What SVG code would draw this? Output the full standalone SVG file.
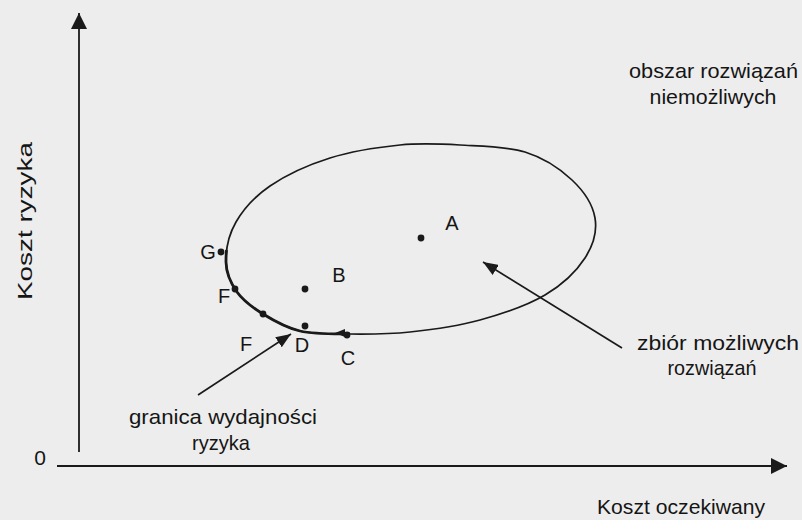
<svg xmlns="http://www.w3.org/2000/svg" width="802" height="520" viewBox="0 0 802 520">
<defs>
<style>
text{font-family:"Liberation Sans",Arial,sans-serif;fill:#151515}
.lbl{font-size:21px}
.pt{font-size:20px;text-anchor:middle}
.ax{stroke:#1a1a1a;stroke-width:1.8;fill:none}
.ln{stroke:#1a1a1a;stroke-width:1.7;fill:none}
.dot{fill:#1a1a1a}
</style>
<marker id="axisHead" markerUnits="userSpaceOnUse" markerWidth="17" markerHeight="16" refX="16" refY="8" orient="auto">
<path d="M0,0 L16,8 L0,16 Z" fill="#1a1a1a"/>
</marker>
<marker id="ptrHead" markerUnits="userSpaceOnUse" markerWidth="16" markerHeight="12" refX="15" refY="6" orient="auto">
<path d="M0,0 L15,6 L0,12 Z" fill="#1a1a1a"/>
</marker>
</defs>
<rect width="802" height="520" fill="#ededed"/>

<g id="axes">
<line class="ax" x1="79" y1="452" x2="79" y2="13" marker-end="url(#axisHead)"/>
<line class="ax" x1="57" y1="466" x2="787" y2="466" marker-end="url(#axisHead)"/>
<text class="lbl" x="40" y="465" text-anchor="middle" font-size="20">0</text>
<text class="lbl" transform="translate(32,221) rotate(-90)" x="0" y="0" text-anchor="middle" font-size="24" textLength="158" lengthAdjust="spacingAndGlyphs">Koszt ryzyka</text>
<text class="lbl" x="681" y="514" text-anchor="middle" textLength="168" lengthAdjust="spacingAndGlyphs">Koszt oczekiwany</text>
</g>

<g id="feasible-set">
<path class="ln" d="M226,262 C225.8,250.3 228.7,234.7 236,222 C243.3,209.3 254.3,196.7 270,186 C285.7,175.3 308.3,164.8 330,158 C351.7,151.2 378.3,147.2 400,145 C421.7,142.8 439.2,143.8 460,145 C480.8,146.2 506.3,146.2 525,152 C543.7,157.8 560.3,169 572,180 C583.7,191 592.8,205 595,218 C597.2,231 593.3,245.2 585,258 C576.7,270.8 562.5,284.7 545,295 C527.5,305.3 502.5,313.8 480,320 C457.5,326.2 431.7,329.7 410,332 C388.3,334.3 368.3,334.2 350,334 C331.7,333.8 314.5,334.3 300,331 C285.5,327.7 273.5,320.5 263,314 C252.5,307.5 243.2,300.7 237,292 C230.8,283.3 226.2,273.7 226,262 Z"/>
</g>

<g id="frontier">
<path d="M226.5,250 C226,255 226,258 226,262 C226.2,273.7 230.8,283.3 237,292 C243.2,300.7 252.5,307.5 263,314 C273.5,320.5 285.5,327.7 300,331 C314.5,334.3 331.7,333.8 350,334" fill="none" stroke="#1a1a1a" stroke-width="2.8"/>
<path d="M335,333 L345,329 L345,337 Z" class="dot"/>
</g>

<g id="point-A"><circle class="dot" cx="421" cy="238" r="3.4"/><text class="pt" x="452" y="230" font-size="21">A</text></g>
<g id="point-B"><circle class="dot" cx="305" cy="289" r="3.4"/><text class="pt" x="339" y="282">B</text></g>
<g id="point-C"><circle class="dot" cx="347" cy="335" r="3.4"/><text class="pt" x="348" y="365">C</text></g>
<g id="point-D"><circle class="dot" cx="305" cy="326" r="3.4"/><text class="pt" x="302" y="352">D</text></g>
<g id="point-F1"><circle class="dot" cx="235" cy="289" r="3.4"/><text class="pt" x="224" y="303">F</text></g>
<g id="point-F2"><circle class="dot" cx="263" cy="314" r="3.4"/><text class="pt" x="246" y="351">F</text></g>
<g id="point-G"><circle class="dot" cx="221" cy="252" r="3.4"/><text class="pt" x="208" y="259">G</text></g>

<g id="label-impossible">
<text class="lbl" x="713.5" y="78" text-anchor="middle" textLength="169" lengthAdjust="spacingAndGlyphs">obszar rozwiązań</text>
<text class="lbl" x="713" y="104" text-anchor="middle" textLength="127" lengthAdjust="spacingAndGlyphs">niemożliwych</text>
</g>

<g id="label-feasible">
<text class="lbl" x="718" y="350" text-anchor="middle" textLength="162" lengthAdjust="spacingAndGlyphs">zbiór możliwych</text>
<text class="lbl" x="712" y="375" text-anchor="middle" textLength="89" lengthAdjust="spacingAndGlyphs">rozwiązań</text>
</g>

<g id="label-frontier">
<text class="lbl" x="223" y="424" text-anchor="middle" textLength="188" lengthAdjust="spacingAndGlyphs">granica wydajności</text>
<text class="lbl" x="221" y="450" text-anchor="middle" textLength="58" lengthAdjust="spacingAndGlyphs">ryzyka</text>
</g>

<g id="connectors">
<line class="ln" x1="622" y1="348" x2="483" y2="262" marker-end="url(#ptrHead)"/>
<line class="ln" x1="198" y1="395" x2="291" y2="334" marker-end="url(#ptrHead)"/>
</g>
</svg>
